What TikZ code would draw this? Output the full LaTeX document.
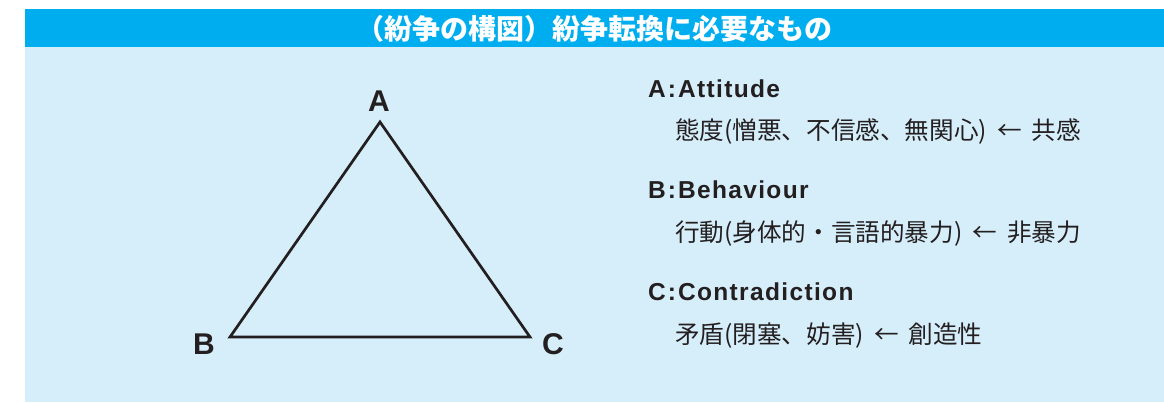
\documentclass[tikz,border=0pt]{standalone}
\usepackage{fontspec}
\setmainfont{Liberation Sans}
\newfontfamily\headfont{Liberation Sans}[LetterSpace=5.5]
\newfontfamily\cjk{Noto Sans CJK JP}
\definecolor{barblue}{HTML}{00AEEF}
\definecolor{paleblue}{HTML}{D6EEFA}
\definecolor{ink}{HTML}{231F20}
\newcommand{\arrowgap}{\hspace{10pt}←\hspace{10pt}}
\begin{document}
\begin{tikzpicture}[x=1pt,y=-1pt,
  vlabel/.style={font=\fontsize{30}{32}\selectfont\bfseries, text=ink, inner sep=0pt},
  head/.style={font=\headfont\fontsize{24.5}{28}\selectfont\bfseries, text=ink, inner sep=0pt, anchor=base west},
  desc/.style={font=\cjk\fontsize{24.6}{28}\selectfont, text=ink, inner sep=0pt, anchor=base west},
  edge/.style={draw=ink, line width=2.7pt, line join=miter}]
\useasboundingbox (0,0) rectangle (1164,402);
\fill[white] (0,0) rectangle (1164,402);
\fill[paleblue] (25,47) rectangle (1164,402);
\fill[barblue] (25,9) rectangle (1164,47);
\node[font=\cjk\bfseries\fontsize{28}{30}\selectfont, text=white, inner sep=0pt] (title) at (594,29) {（紛争の構図）紛争転換に必要なもの};
% triangle
\coordinate (A) at (380,122);
\coordinate (B) at (230,337);
\coordinate (C) at (530,337);
\draw[edge] (A) -- (B) -- (C) -- cycle;
\node[vlabel] (la) at (379,101) {A};
\node[vlabel] (lb) at (204,344) {B};
\node[vlabel] (lc) at (553,344) {C};
% legend
\node[head] (ha) at (648,97) {A\kern2pt:\kern2pt Attitude};
\node[desc] (da) at (675,139) {態度(憎悪、不信感、無関心)\arrowgap 共感};
\node[head] (hb) at (648,198) {B\kern2pt:\kern2pt Behaviour};
\node[desc] (db) at (675,241) {行動(身体的・言語的暴力)\arrowgap 非暴力};
\node[head] (hc) at (648,300) {C\kern2pt:\kern2pt Contradiction};
\node[desc] (dc) at (675,343) {矛盾(閉塞、妨害)\arrowgap 創造性};
\end{tikzpicture}
\end{document}
